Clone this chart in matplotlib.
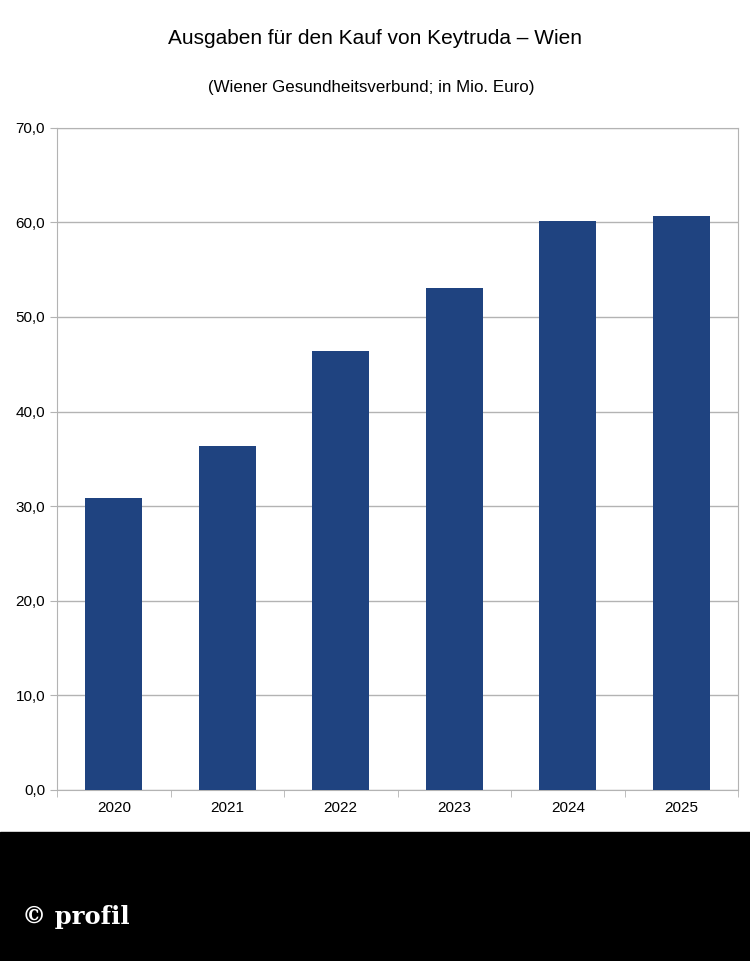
import matplotlib
matplotlib.use("Agg")
import matplotlib.pyplot as plt
from matplotlib.patches import Rectangle

years = ["2020", "2021", "2022", "2023", "2024", "2025"]
values = [30.9, 36.4, 46.4, 53.1, 60.1, 60.7]
yticks = [0, 10, 20, 30, 40, 50, 60, 70]

plt.rcParams['font.family'] = ['Liberation Sans', 'DejaVu Sans']
fig = plt.figure(figsize=(7.5, 9.61), dpi=100)
ax = fig.add_axes([0.076, 0.178, 0.908, 0.689])
x = range(len(years))
ax.bar(x, values, width=0.5, color="#1f4380", zorder=3)
ax.set_xlim(-0.5, len(years) - 0.5)
ax.set_ylim(0, 70)
ax.set_yticks(yticks)
ax.set_yticklabels([f"{v:.1f}".replace(".", ",") for v in yticks], fontsize=11)
ax.set_xticks(list(x))
ax.set_xticklabels(years, fontsize=11)
ax.set_xticks([i - 0.5 for i in range(len(years) + 1)], minor=True)
ax.tick_params(axis='x', which='major', length=0, pad=8)
ax.tick_params(axis='x', which='minor', length=5, color="#b3b3b3")
ax.tick_params(axis='y', length=5, color="#b3b3b3")
ax.grid(axis='y', color="#b3b3b3", linewidth=1, zorder=0)
for s in ax.spines.values():
    s.set_color("#b3b3b3")
fig.text(0.5, 0.960, "Ausgaben für den Kauf von Keytruda – Wien", ha='center', va='center', fontsize=15)
fig.text(0.495, 0.909, "(Wiener Gesundheitsverbund; in Mio. Euro)", ha='center', va='center', fontsize=12.2)
fig.patches.append(Rectangle((0, 0), 1, 0.134, transform=fig.transFigure, color='black'))
fig.text(0.029, 0.046, "© profil", color='white', fontsize=17.5, fontweight='bold',
         family=['DejaVu Serif'], va='center', ha='left')
fig.savefig("out.png", dpi=100)
